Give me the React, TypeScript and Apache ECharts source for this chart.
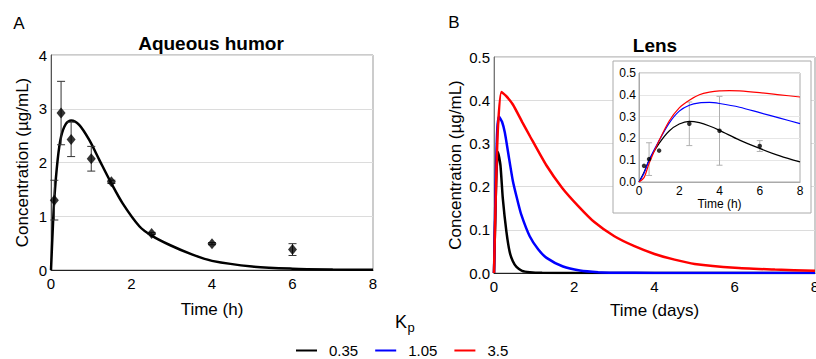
import React, { useEffect, useRef } from 'react';
import * as echarts from 'echarts';

const FONT = "'Liberation Sans', Arial, Helvetica, sans-serif";

// ---------- Panel A: Aqueous humor (time in h) ----------
const aqueousCurveT = [0, 0.04, 0.08, 0.165, 0.25, 0.37, 0.5, 0.7, 0.95, 1.2, 1.48, 1.78, 2.2, 2.5, 2.95, 3.5, 4, 5, 6, 7, 8];
const aqueousCurveC = [0, 0.7, 1.3, 2.05, 2.48, 2.72, 2.78, 2.7, 2.42, 2.05, 1.64, 1.24, 0.81, 0.64, 0.465, 0.29, 0.17, 0.065, 0.025, 0.01, 0.004];
const aqueousObsT = [0.083, 0.25, 0.5, 1, 1.5, 2.5, 4, 6];
const aqueousObsC = [1.3, 2.92, 2.43, 2.07, 1.64, 0.68, 0.49, 0.38];
const aqueousObsErr = [0.37, 0.59, 0.32, 0.23, 0.03, 0.02, 0.02, 0.11];

// ---------- Panel B: Lens (time in days) ----------
const kpNames = ['0.35', '1.05', '3.5'];
const kpColors = ['#000000', '#0000ff', '#ff0000'];

const lensT_035 = [0, 0.03, 0.06, 0.1, 0.16, 0.22, 0.31, 0.39, 0.47, 0.56, 0.7, 0.89, 1.2, 2, 4, 8];
const lensC_035 = [0, 0.12, 0.23, 0.28, 0.25, 0.172, 0.095, 0.049, 0.027, 0.014, 0.005, 0.002, 0.0005, 0, 0, 0];
const lensT_105 = [0, 0.04, 0.08, 0.125, 0.2, 0.27, 0.35, 0.47, 0.58, 0.68, 0.89, 1.1, 1.31, 1.72, 2.14, 2.6, 3, 4, 8];
const lensC_105 = [0, 0.2, 0.33, 0.362, 0.35, 0.325, 0.28, 0.213, 0.17, 0.135, 0.085, 0.055, 0.035, 0.015, 0.006, 0.002, 0.0008, 0.0002, 0];
const lensT_35 = [0, 0.05, 0.1, 0.185, 0.3, 0.47, 0.7, 0.9, 1.3, 1.7, 2.1, 2.5, 3, 3.5, 4, 4.5, 5, 6, 7, 8];
const lensC_35 = [0, 0.2, 0.34, 0.419, 0.41, 0.39, 0.35, 0.316, 0.25, 0.197, 0.155, 0.118, 0.085, 0.062, 0.044, 0.031, 0.021, 0.012, 0.008, 0.005];

// ---------- Inset: Lens (time in h) ----------
const insetT_035 = [0, 0.25, 0.5, 1, 1.5, 2, 2.5, 3, 3.5, 4, 5, 6, 7, 8];
const insetC_035 = [0, 0.045, 0.1, 0.177, 0.234, 0.266, 0.278, 0.272, 0.257, 0.237, 0.192, 0.154, 0.12, 0.092];
const insetT_105 = [0, 0.25, 0.5, 1, 1.5, 2, 2.5, 3, 3.5, 4, 5, 6, 7, 8];
const insetC_105 = [0, 0.04, 0.1, 0.19, 0.27, 0.325, 0.352, 0.363, 0.365, 0.36, 0.343, 0.318, 0.293, 0.268];
const insetT_35 = [0, 0.25, 0.5, 1, 1.5, 2, 2.5, 3, 3.5, 4, 4.5, 5, 6, 7, 8];
const insetC_35 = [0, 0.02, 0.085, 0.19, 0.28, 0.34, 0.375, 0.4, 0.412, 0.418, 0.419, 0.418, 0.41, 0.4, 0.39];
const insetObsT = [0.25, 0.5, 1, 2.5, 4, 6];
const insetObsC = [0.074, 0.105, 0.144, 0.267, 0.235, 0.165];
const insetObsErr = [0, 0.075, 0, 0.1, 0.158, 0.025];

// ---------- Tick settings ----------
const timeMin = 0, timeMax = 8, timeStep = 2;
const aqMin = 0, aqMax = 4, aqStep = 1;
const lensMin = 0, lensMax = 0.5, lensStep = 0.1;

const zip = (a: number[], b: number[]) => a.map((v, i) => [v, b[i]]);
const zip3 = (a: number[], b: number[], c: number[]) => a.map((v, i) => [v, b[i], c[i]]);

function errorBars(color: string, cap: number, width: number) {
  return (_params: any, api: any) => {
    const x = api.value(0), y = api.value(1), e = api.value(2);
    if (!e) return { type: 'group', children: [] };
    const hi = api.coord([x, y + e]);
    const lo = api.coord([x, y - e]);
    const style = { stroke: color, lineWidth: width };
    return {
      type: 'group',
      children: [
        { type: 'line', shape: { x1: hi[0], y1: hi[1], x2: lo[0], y2: lo[1] }, style },
        { type: 'line', shape: { x1: hi[0] - cap, y1: hi[1], x2: hi[0] + cap, y2: hi[1] }, style },
        { type: 'line', shape: { x1: lo[0] - cap, y1: lo[1], x2: lo[0] + cap, y2: lo[1] }, style },
      ],
    };
  };
}

const mainLabel = { fontSize: 15, color: '#000', fontFamily: FONT };
const insetLabel = { fontSize: 12, color: '#000', fontFamily: FONT };

function buildOption(): any {
  const lensMain = [zip(lensT_035, lensC_035), zip(lensT_105, lensC_105), zip(lensT_35, lensC_35)];
  const lensInset = [zip(insetT_035, insetC_035), zip(insetT_105, insetC_105), zip(insetT_35, insetC_35)];

  return {
    animation: false,
    backgroundColor: '#fff',
    textStyle: { fontFamily: FONT },
    grid: [
      { left: 51, top: 55, width: 322, height: 215, show: true, borderColor: '#999', borderWidth: 1, z: 0, outerBoundsMode: 'none', containLabel: false },
      { left: 494, top: 57, width: 321, height: 216, show: true, borderColor: '#999', borderWidth: 1, z: 0, outerBoundsMode: 'none', containLabel: false },
      { left: 639, top: 73, width: 161, height: 109, show: true, borderColor: '#aaa', borderWidth: 1, backgroundColor: '#fff', z: 4, outerBoundsMode: 'none', containLabel: false },
    ],
    xAxis: [
      {
        gridIndex: 0, type: 'value', min: timeMin, max: timeMax, interval: timeStep,
        axisLine: { lineStyle: { color: '#222', width: 1 } }, axisTick: { show: false },
        axisLabel: { ...mainLabel, margin: 6 }, splitLine: { show: false },
        name: 'Time (h)', nameLocation: 'middle', nameGap: 31,
        nameTextStyle: { fontSize: 17, color: '#000', fontFamily: FONT },
      },
      {
        gridIndex: 1, type: 'value', min: timeMin, max: timeMax, interval: timeStep,
        axisLine: { lineStyle: { color: '#222', width: 1 } }, axisTick: { show: false },
        axisLabel: { ...mainLabel, margin: 6 }, splitLine: { show: false },
        name: 'Time (days)', nameLocation: 'middle', nameGap: 29,
        nameTextStyle: { fontSize: 17, color: '#000', fontFamily: FONT },
      },
      {
        gridIndex: 2, type: 'value', min: timeMin, max: timeMax, interval: timeStep, z: 4,
        axisLine: { lineStyle: { color: '#aaa', width: 1 } }, axisTick: { show: false },
        axisLabel: { ...insetLabel, margin: 3 }, splitLine: { show: false },
        name: 'Time (h)', nameLocation: 'middle', nameGap: 14,
        nameTextStyle: { fontSize: 12, color: '#000', fontFamily: FONT },
      },
    ],
    yAxis: [
      {
        gridIndex: 0, type: 'value', min: aqMin, max: aqMax, interval: aqStep,
        axisLine: { show: true, lineStyle: { color: '#555', width: 1 } }, axisTick: { show: false },
        axisLabel: { ...mainLabel, margin: 4 },
        splitLine: { show: true, lineStyle: { color: '#dcdcdc', width: 1 } },
        name: 'Concentration (µg/mL)', nameLocation: 'middle', nameGap: 20,
        nameTextStyle: { fontSize: 17, color: '#000', fontFamily: FONT },
      },
      {
        gridIndex: 1, type: 'value', min: lensMin, max: lensMax, interval: lensStep,
        axisLine: { show: true, lineStyle: { color: '#777', width: 1 } }, axisTick: { show: false },
        axisLabel: { ...mainLabel, margin: 4, formatter: (v: number) => v.toFixed(1) },
        splitLine: { show: true, lineStyle: { color: '#dcdcdc', width: 1 } },
        name: 'Concentration (µg/mL)', nameLocation: 'middle', nameGap: 30,
        nameTextStyle: { fontSize: 17, color: '#000', fontFamily: FONT },
      },
      {
        gridIndex: 2, type: 'value', min: lensMin, max: lensMax, interval: lensStep, z: 4,
        axisLine: { show: true, lineStyle: { color: '#aaa', width: 1 } }, axisTick: { show: false },
        axisLabel: { ...insetLabel, margin: 3, formatter: (v: number) => v.toFixed(1) },
        splitLine: { show: true, lineStyle: { color: '#e6e6e6', width: 1 } },
      },
    ],
    legend: {
      data: kpNames.map((n) => ({ name: n, icon: 'rect' })),
      left: 296, top: 343, itemWidth: 21, itemHeight: 2, itemGap: 17, padding: 0,
      textStyle: { fontSize: 15, color: '#000', fontFamily: FONT, padding: [0, 0, 0, 7] },
      selectedMode: false,
    },
    graphic: [
      { type: 'rect', z: 3, shape: { x: 613, y: 61, width: 198, height: 152 }, style: { fill: '#fff', stroke: '#aaa', lineWidth: 1 } },
      { type: 'text', x: 19, y: 23, style: { text: 'A', fontSize: 17, fill: '#000', fontFamily: FONT, textAlign: 'center', textVerticalAlign: 'middle' } },
      { type: 'text', x: 454, y: 22, style: { text: 'B', fontSize: 17, fill: '#000', fontFamily: FONT, textAlign: 'center', textVerticalAlign: 'middle' } },
      { type: 'text', x: 211, y: 43.5, style: { text: 'Aqueous humor', fontSize: 19, fontWeight: 'bold', fill: '#000', fontFamily: FONT, textAlign: 'center', textVerticalAlign: 'middle' } },
      { type: 'text', x: 655, y: 45.5, style: { text: 'Lens', fontSize: 19, fontWeight: 'bold', fill: '#000', fontFamily: FONT, textAlign: 'center', textVerticalAlign: 'middle' } },
      { type: 'text', x: 401, y: 321.5, style: { text: 'K', fontSize: 18, fill: '#000', fontFamily: FONT, textAlign: 'center', textVerticalAlign: 'middle' } },
      { type: 'text', x: 407.5, y: 327, style: { text: 'p', fontSize: 13, fill: '#000', fontFamily: FONT, textAlign: 'left', textVerticalAlign: 'middle' } },
    ],
    series: [
      {
        type: 'line', name: 'Aqueous', xAxisIndex: 0, yAxisIndex: 0,
        data: zip(aqueousCurveT, aqueousCurveC), smooth: 0.3, symbol: 'none', color: '#000',
        lineStyle: { color: '#000', width: 2.5 }, z: 2,
      },
      {
        type: 'custom', name: 'Aqueous error', xAxisIndex: 0, yAxisIndex: 0,
        data: zip3(aqueousObsT, aqueousObsC, aqueousObsErr), encode: { x: 0, y: 1 },
        renderItem: errorBars('#333', 4, 1), z: 3,
      },
      {
        type: 'scatter', name: 'Aqueous obs', xAxisIndex: 0, yAxisIndex: 0,
        data: zip(aqueousObsT, aqueousObsC), symbol: 'diamond', symbolSize: [9, 11],
        itemStyle: { color: '#000' }, z: 4,
      },
      ...kpNames.map((n, i) => ({
        type: 'line', name: n, xAxisIndex: 1, yAxisIndex: 1,
        data: lensMain[i], smooth: 0.2, symbol: 'none', color: kpColors[i],
        lineStyle: { color: kpColors[i], width: 2.5 }, z: 2,
      })),
      ...kpNames.map((n, i) => ({
        type: 'line', name: n, xAxisIndex: 2, yAxisIndex: 2,
        data: lensInset[i], smooth: 0.3, symbol: 'none', color: kpColors[i],
        lineStyle: { color: kpColors[i], width: 1.2 }, z: 6,
      })),
      {
        type: 'custom', name: 'Lens error', xAxisIndex: 2, yAxisIndex: 2,
        data: zip3(insetObsT, insetObsC, insetObsErr), encode: { x: 0, y: 1 },
        renderItem: errorBars('#b0b0b0', 3, 1), z: 5,
      },
      {
        type: 'scatter', name: 'Lens obs', xAxisIndex: 2, yAxisIndex: 2,
        data: zip(insetObsT, insetObsC), symbol: 'circle', symbolSize: 4.5,
        itemStyle: { color: '#000' }, z: 7,
      },
    ],
  };
}

export default function App() {
  const ref = useRef<HTMLDivElement>(null);
  useEffect(() => {
    if (!ref.current) return;
    const chart = echarts.init(ref.current, null, { renderer: 'svg' });
    chart.setOption(buildOption());
    return () => chart.dispose();
  }, []);
  return (
    <div
      ref={ref}
      style={{ position: 'fixed', left: 0, top: 0, width: 816, height: 359, background: '#fff' }}
    />
  );
}
